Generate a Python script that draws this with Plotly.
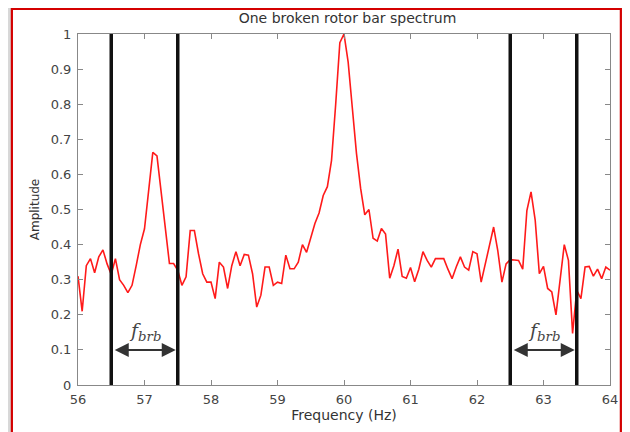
import plotly.graph_objects as go

# ---- data ----
freq_start = 56.0
freq_step = 0.0625
amplitude = [
    0.31, 0.21, 0.34, 0.36, 0.32, 0.365, 0.385, 0.345, 0.315, 0.36,
    0.30, 0.284, 0.263, 0.284, 0.34, 0.40, 0.445, 0.554, 0.663, 0.653,
    0.55, 0.45, 0.346, 0.346, 0.327, 0.284, 0.308, 0.44, 0.44, 0.374,
    0.317, 0.293, 0.293, 0.246, 0.35, 0.336, 0.275, 0.34, 0.38, 0.34,
    0.372, 0.37, 0.317, 0.222, 0.256, 0.336, 0.336, 0.284, 0.293, 0.289,
    0.37, 0.331, 0.331, 0.35, 0.40, 0.378, 0.42, 0.46, 0.49, 0.54,
    0.565, 0.64, 0.80, 0.975, 1.0, 0.92, 0.79, 0.66, 0.56, 0.485,
    0.50, 0.418, 0.41, 0.446, 0.43, 0.304, 0.340, 0.387, 0.309, 0.304,
    0.335, 0.294, 0.33, 0.38, 0.355, 0.336, 0.36, 0.36, 0.36, 0.33,
    0.303, 0.336, 0.365, 0.336, 0.327, 0.38, 0.374, 0.293, 0.345, 0.40,
    0.45, 0.383, 0.293, 0.345, 0.357, 0.356, 0.355, 0.33, 0.497, 0.55,
    0.47, 0.317, 0.338, 0.275, 0.265, 0.20, 0.30, 0.40, 0.355, 0.147,
    0.27, 0.246, 0.336, 0.338, 0.31, 0.33, 0.303, 0.336, 0.327,
]
frequency = [freq_start + i * freq_step for i in range(len(amplitude))]

band_lines = [56.5, 57.5, 62.5, 63.5]
arrow_pairs = [(56.5, 57.5), (62.5, 63.5)]
arrow_y = 0.1
label_y = 0.152
x_ticks = [56, 57, 58, 59, 60, 61, 62, 63, 64]
y_ticks = [0, 0.1, 0.2, 0.3, 0.4, 0.5, 0.6, 0.7, 0.8, 0.9, 1]

# ---- geometry (figure pixels; page body adds an 8px offset) ----
W, H = 622, 424
L, R, T, B = 70, 13, 26, 47
pw, ph = W - L - R, H - T - B


def px_x(p):
    return (p - L) / pw


def px_y(q):
    return (H - B - q) / ph


FONT = "DejaVu Sans, Verdana, sans-serif"

fig = go.Figure()

fig.add_trace(go.Scatter(
    x=frequency, y=amplitude, mode="lines",
    line=dict(color="#ff1a1a", width=1.6),
    showlegend=False, hoverinfo="skip",
))

shapes = [dict(
    type="rect", xref="paper", yref="paper", layer="below",
    x0=px_x(3), x1=px_x(620), y0=px_y(H + 20), y1=px_y(1),
    fillcolor="white", line=dict(color="#d40000", width=2.2),
)]
for xv in band_lines:
    shapes.append(dict(
        type="line", xref="x", yref="y", x0=xv, x1=xv, y0=0, y1=1,
        line=dict(color="#111111", width=3.5), layer="above",
    ))

annotations = []
for a, b in arrow_pairs:
    annotations.append(dict(
        x=b, y=arrow_y, ax=a, ay=arrow_y, xref="x", yref="y",
        axref="x", ayref="y", text="", showarrow=True,
        arrowhead=2, startarrowhead=2, arrowside="end+start",
        arrowsize=1.4, startarrowsize=1.4,
        arrowwidth=2, arrowcolor="#333333",
        standoff=2, startstandoff=2,
    ))
    annotations.append(dict(
        x=(a + b) / 2, y=label_y, xref="x", yref="y",
        text="<i>f</i><sub><i>brb</i></sub>", showarrow=False,
        font=dict(family="DejaVu Serif, serif", size=19, color="#444444"),
        yanchor="middle",
    ))

fig.update_layout(
    width=W, height=H,
    margin=dict(l=L, r=R, t=T, b=B, pad=0),
    paper_bgcolor="#d8d8d8",
    plot_bgcolor="white",
    shapes=shapes,
    annotations=annotations,
    title=dict(
        text="One broken rotor bar spectrum",
        x=(L + pw / 2) / W, xanchor="center",
        y=1 - 10 / H, yanchor="middle",
        font=dict(family=FONT, size=14, color="#333333"),
    ),
    font=dict(family=FONT, color="#333333"),
    xaxis=dict(
        range=[56, 64], tickvals=x_ticks, ticktext=[str(v) for v in x_ticks],
        ticks="inside", ticklen=5, tickcolor="#888888",
        showline=True, linecolor="#888888", linewidth=1, mirror="ticks",
        showgrid=False, zeroline=False, ticklabelstandoff=2,
        tickfont=dict(size=13, color="#444444"),
        title=dict(text="Frequency (Hz)", font=dict(size=14, color="#333333"), standoff=1),
    ),
    yaxis=dict(
        range=[0, 1], tickvals=y_ticks, ticktext=[("%g" % v) for v in y_ticks],
        ticks="inside", ticklen=5, tickcolor="#888888",
        showline=True, linecolor="#888888", linewidth=1, mirror="ticks",
        showgrid=False, zeroline=False, ticklabelstandoff=3,
        tickfont=dict(size=13, color="#444444"),
        title=dict(text="Amplitude", font=dict(size=12, color="#333333"), standoff=8),
    ),
)

fig.write_html("out.html")
